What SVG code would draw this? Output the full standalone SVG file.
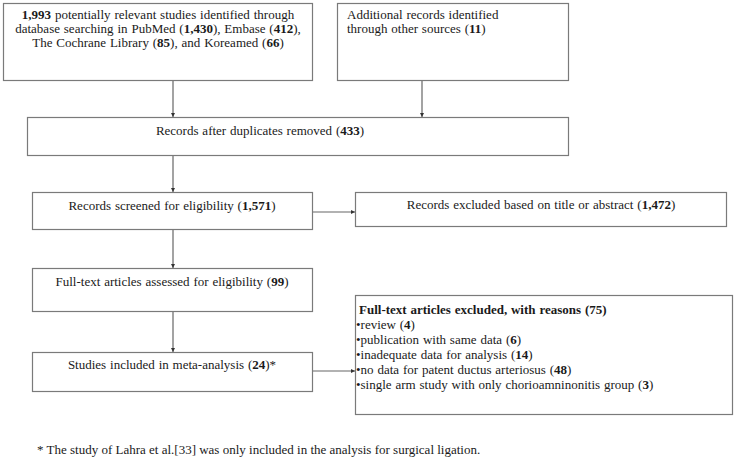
<svg xmlns="http://www.w3.org/2000/svg" width="741" height="463" viewBox="0 0 741 463">
<style>
.box{fill:#fff;stroke:#7a7a7a;stroke-width:1.2}
.t{font-family:"Liberation Serif","Times New Roman",serif;font-size:13px;fill:#1a1a1a;word-spacing:0.6px}
.m{text-anchor:middle}
.c{stroke:#666;stroke-width:1.2;fill:none;marker-end:url(#ah)}
.b{font-weight:bold}
</style>
<defs>
<marker id="ah" viewBox="0 0 6 6" refX="6" refY="3" markerWidth="4" markerHeight="4" orient="auto" markerUnits="userSpaceOnUse">
<path d="M0,0 L6,3 L0,6 z" fill="#333"/>
</marker>
</defs>
<rect width="741" height="463" fill="#fff"/>
<g id="connectors">
<path class="c" d="M173,81 V117"/>
<path class="c" d="M422,81 V117"/>
<path class="c" d="M173,156 V192"/>
<path class="c" d="M313,212 H355"/>
<path class="c" d="M173,230 V268"/>
<path class="c" d="M173,312 V352"/>
<path class="c" d="M313,371 H355"/>
</g>
<g id="n1">
<rect class="box" x="3.5" y="3.5" width="309" height="77"/>
<text class="t m" x="158" y="19"><tspan class="b">1,993</tspan> potentially relevant studies identified through</text>
<text class="t m" x="158" y="33">database searching in PubMed (<tspan class="b">1,430</tspan>), Embase (<tspan class="b">412</tspan>),</text>
<text class="t m" x="158" y="47">The Cochrane Library (<tspan class="b">85</tspan>), and Koreamed (<tspan class="b">66</tspan>)</text>
</g>
<g id="n2">
<rect class="box" x="337.5" y="3.5" width="231" height="77"/>
<text class="t" x="347" y="19">Additional records identified</text>
<text class="t" x="347" y="33">through other sources (<tspan class="b">11</tspan>)</text>
</g>
<g id="n3">
<rect class="box" x="27.5" y="117.5" width="541" height="38"/>
<text class="t m" x="260" y="135">Records after duplicates removed (<tspan class="b">433</tspan>)</text>
</g>
<g id="n4">
<rect class="box" x="32.5" y="192.5" width="280" height="37"/>
<text class="t m" x="172" y="210">Records screened for eligibility (<tspan class="b">1,571</tspan>)</text>
</g>
<g id="n5">
<rect class="box" x="355.5" y="192.5" width="371" height="34"/>
<text class="t m" x="541" y="209">Records excluded based on title or abstract (<tspan class="b">1,472</tspan>)</text>
</g>
<g id="n6">
<rect class="box" x="32.5" y="268.5" width="280" height="43"/>
<text class="t m" x="172" y="286">Full-text articles assessed for eligibility (<tspan class="b">99</tspan>)</text>
</g>
<g id="n7">
<rect class="box" x="32.5" y="352.5" width="280" height="39"/>
<text class="t m" x="172" y="369">Studies included in meta-analysis (<tspan class="b">24</tspan>)*</text>
</g>
<g id="n8">
<rect class="box" x="355.5" y="295.5" width="377" height="119"/>
<text class="t b" x="359" y="314">Full-text articles excluded, with reasons (75)</text>
<text class="t" x="356" y="329">•review (<tspan class="b">4</tspan>)</text>
<text class="t" x="356" y="344">•publication with same data (<tspan class="b">6</tspan>)</text>
<text class="t" x="356" y="359">•inadequate data for analysis (<tspan class="b">14</tspan>)</text>
<text class="t" x="356" y="374">•no data for patent ductus arteriosus (<tspan class="b">48</tspan>)</text>
<text class="t" x="356" y="389">•single arm study with only chorioamninonitis group (<tspan class="b">3</tspan>)</text>
</g>
<g id="footnote">
<text class="t" x="37" y="454" style="word-spacing:0">* The study of Lahra et al.[33] was only included in the analysis for surgical ligation.</text>
</g>
</svg>
